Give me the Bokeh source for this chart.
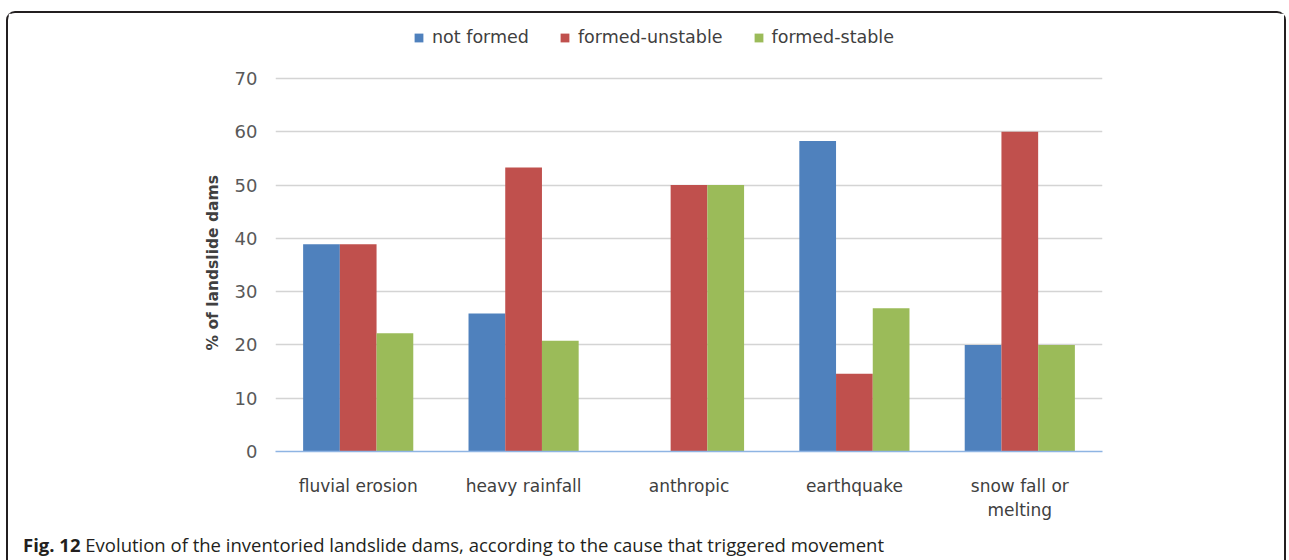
from bokeh.plotting import figure
from bokeh.layouts import column
from bokeh.models import (FactorRange, Range1d, Legend, LegendItem, Div, Title,
                          ColumnDataSource, FixedTicker)
from bokeh.transform import dodge
from bokeh.embed import file_html
from bokeh.resources import INLINE

# Cause that triggered the movement
categories = ["fluvial erosion", "heavy rainfall", "anthropic", "earthquake",
              "snow fall or\nmelting"]
# Share of landslide dams (%) per evolution outcome
not_formed = [38.9, 25.9, 0.0, 58.3, 20.0]
formed_unstable = [38.9, 53.3, 50.0, 14.6, 60.0]
formed_stable = [22.2, 20.8, 50.0, 26.9, 20.0]
series_names = ["not formed", "formed-unstable", "formed-stable"]
series_colors = ["#4F81BD", "#C0504D", "#9BBB59"]
y_ticks = [0, 10, 20, 30, 40, 50, 60, 70]
y_label = "% of landslide dams"

caption_bold = "Fig. 12"
caption_text = ("Evolution of the inventoried landslide dams, according to the "
                "cause that triggered movement")

src = ColumnDataSource(dict(cause=categories, nf=not_formed,
                            fu=formed_unstable, fs=formed_stable))

# the frame reaches up to the legend row; ticks and grid stop at 70
p = figure(width=1276, height=518, x_range=FactorRange(*categories, range_padding=0),
           y_range=Range1d(0, 80.9), output_backend="svg", toolbar_location=None,
           min_border_left=267, min_border_right=182, min_border_top=7,
           min_border_bottom=80)

bar_w = 0.222
renderers = []
for col, off, color in zip(["nf", "fu", "fs"], [-bar_w, 0.0, bar_w], series_colors):
    r = p.vbar(x=dodge("cause", off, range=p.x_range), top=col, width=bar_w,
               source=src, fill_color=color, line_color=None)
    renderers.append(r)

# grid and axes
p.outline_line_color = None
p.xgrid.grid_line_color = None
p.ygrid.grid_line_color = "#D4D4D4"
p.ygrid.grid_line_width = 1.5
p.yaxis.ticker = FixedTicker(ticks=y_ticks)

p.yaxis.axis_line_color = None
p.yaxis.major_tick_line_color = None
p.yaxis.minor_tick_line_color = None
p.yaxis.major_label_standoff = 12
p.yaxis.major_label_text_font = "DejaVu Sans"
p.yaxis.major_label_text_font_size = "18px"
p.yaxis.major_label_text_color = "#595959"

# y-axis title, centred on the 0-70 span rather than the whole frame
p.add_layout(Title(text=y_label, align="left", offset=101, standoff=20,
                   text_font="DejaVu Sans", text_font_size="15.5px",
                   text_font_style="bold", text_color="#404040"), "left")

p.xaxis.axis_line_color = "#8EB4E3"
p.xaxis.axis_line_width = 1.5
p.xaxis.major_tick_line_color = None
p.xaxis.minor_tick_line_color = None
p.xaxis.major_label_standoff = 18
p.xaxis.major_label_text_font = "DejaVu Sans"
p.xaxis.major_label_text_font_size = "17px"
p.xaxis.major_label_text_color = "#404040"

legend = Legend(items=[LegendItem(label=n, renderers=[r]) for n, r in zip(series_names, renderers)],
                orientation="horizontal", location=(138, 404),
                glyph_width=11, glyph_height=11, label_standoff=8, spacing=30,
                padding=0, margin=0, border_line_color=None,
                background_fill_alpha=0, label_text_font="DejaVu Sans",
                label_text_font_size="17.5px", label_text_color="#404040")
p.add_layout(legend)

caption = Div(text=(f'<div style="padding-left:10px"><b>{caption_bold}</b> '
                    f'{caption_text}</div>'),
              width=1276, height=28,
              styles={"font-family": "Open Sans", "font-size": "18.5px",
                      "color": "#231F20", "line-height": "18px"})

panel = column(p, caption, spacing=0, width=1280,
               styles={"border": "2px solid #231F20", "border-bottom": "none",
                       "border-radius": "9px 9px 0 0", "margin-left": "6px",
                       "margin-top": "11px", "width": "1280px"})

open("out.html", "w").write(file_html(panel, INLINE))
